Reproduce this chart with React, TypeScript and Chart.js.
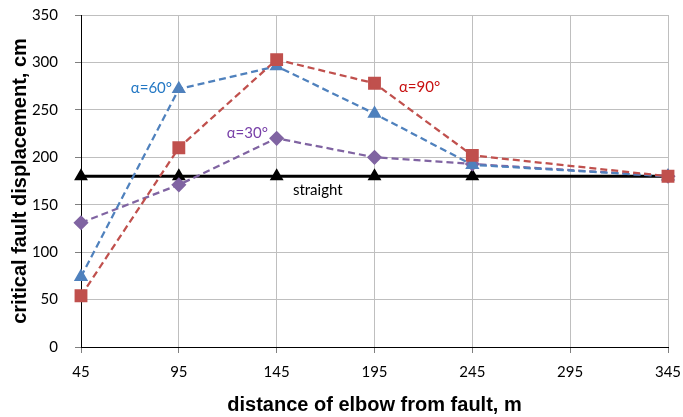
import React, { useEffect, useRef } from "react";
import { Chart, registerables } from "chart.js";

Chart.register(...registerables);

const distances = [45, 95, 145, 195, 245, 345];
const straight = [180, 180, 180, 180, 180, 180];
const alpha90 = [54, 210, 303, 278, 202, 180];
const alpha60 = [74, 272, 296, 246, 192, 180];
const alpha30 = [131, 171, 220, 200, 193, 180];

const seriesLabels = [
  { text: "α=60°", x: 81, y: 273, color: "#2478C4" },
  { text: "α=30°", x: 130, y: 225, color: "#7840A8" },
  { text: "α=90°", x: 218, y: 274, color: "#C81010" },
  { text: "straight", x: 166, y: 165, color: "#000000" },
];

const FONT = "Lato, 'Open Sans', sans-serif";
const TITLE_FONT = "'Liberation Sans', Arial, sans-serif";

const toPoints = (ys: number[]) => distances.map((x, i) => ({ x, y: ys[i] }));

const seriesLabelPlugin = {
  id: "seriesLabels",
  afterDatasetsDraw(chart: any) {
    const { ctx, scales } = chart;
    ctx.save();
    ctx.font = `15px ${FONT}`;
    ctx.textAlign = "center";
    ctx.textBaseline = "middle";
    for (const l of seriesLabels) {
      ctx.fillStyle = l.color;
      ctx.fillText(l.text, scales.x.getPixelForValue(l.x), scales.y.getPixelForValue(l.y));
    }
    ctx.restore();
  },
};

export default function App() {
  const ref = useRef<HTMLCanvasElement>(null);

  useEffect(() => {
    document.body.style.margin = "0";
    const dashed = [7, 4];
    const chart = new Chart(ref.current!, {
      type: "line",
      data: {
        datasets: [
          {
            label: "straight",
            data: toPoints(straight),
            borderColor: "#000000",
            backgroundColor: "#000000",
            borderWidth: 3,
            pointStyle: "triangle",
            pointRadius: [5, 5, 5, 5, 5, 0],
            order: 4,
            clip: false,
          },
          {
            label: "α=30°",
            data: toPoints(alpha30),
            borderColor: "#8064A2",
            backgroundColor: "#8064A2",
            borderWidth: 2.25,
            borderDash: dashed,
            pointStyle: "rectRot",
            pointRadius: 6,
            order: 3,
            clip: false,
          },
          {
            label: "α=60°",
            data: toPoints(alpha60),
            borderColor: "#4F81BD",
            backgroundColor: "#4F81BD",
            borderWidth: 2.25,
            borderDash: dashed,
            pointStyle: "triangle",
            pointRadius: 6,
            order: 2,
            clip: false,
          },
          {
            label: "α=90°",
            data: toPoints(alpha90),
            borderColor: "#C0504D",
            backgroundColor: "#C0504D",
            borderWidth: 2.25,
            borderDash: dashed,
            pointStyle: "rect",
            pointRadius: 7.5,
            order: 1,
            clip: false,
          },
        ],
      },
      options: {
        animation: false,
        responsive: false,
        maintainAspectRatio: false,
        layout: { padding: { top: 0, right: 0, left: 3, bottom: 0 } },
        plugins: { legend: { display: false }, tooltip: { enabled: false } },
        scales: {
          x: {
            type: "linear",
            min: 45,
            max: 345,
            ticks: { stepSize: 50, color: "#000", font: { family: FONT, size: 15 }, padding: 10 },
            grid: { color: "#BFBFBF", tickColor: "#7F7F7F", tickLength: 6, lineWidth: 1 },
            border: { color: "#000", width: 1 },
            title: {
              display: true,
              text: "distance of elbow from fault, m",
              color: "#000",
              font: { family: TITLE_FONT, size: 20, weight: "bold" },
              padding: { top: 0, bottom: 0 },
            },
            afterFit: (scale: any) => {
              scale.height = 70;
              scale.paddingLeft = 0;
              scale.paddingRight = 15;
            },
          },
          y: {
            min: 0,
            max: 350,
            ticks: { stepSize: 50, color: "#000", font: { family: FONT, size: 15 }, padding: 17 },
            grid: { color: "#BFBFBF", tickColor: "#7F7F7F", tickLength: 6, lineWidth: 1 },
            border: { color: "#000", width: 1 },
            title: {
              display: true,
              text: "critical fault displacement, cm",
              color: "#000",
              font: { family: TITLE_FONT, size: 20, weight: "bold" },
              padding: { top: 5, bottom: 0 },
            },
            afterFit: (scale: any) => {
              scale.width = 78;
              scale.paddingTop = 15;
              scale.paddingBottom = 0;
            },
          },
        },
      },
      plugins: [seriesLabelPlugin],
    });
    return () => chart.destroy();
  }, []);

  return (
    <div style={{ position: "absolute", left: 0, top: 0, width: 683, height: 417 }}>
      <canvas ref={ref} width={683} height={417} style={{ display: "block" }} />
    </div>
  );
}
